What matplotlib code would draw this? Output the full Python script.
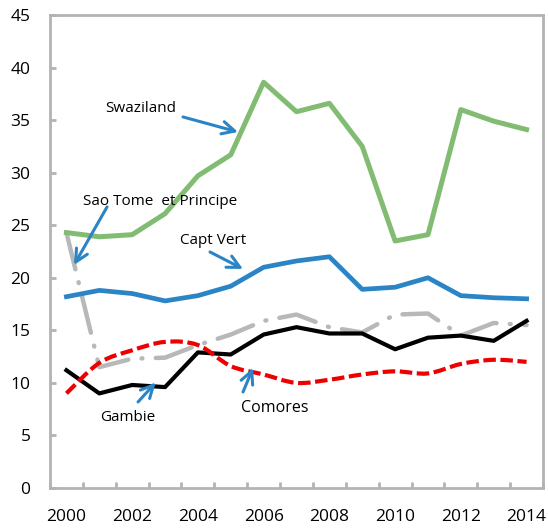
import matplotlib
matplotlib.use("Agg")
import matplotlib.pyplot as plt
from matplotlib.path import Path
from matplotlib.patches import PathPatch
import numpy as np

years = list(range(2000, 2015))
swaziland = [24.3, 23.9, 24.1, 26.1, 29.7, 31.7, 38.6, 35.8, 36.6, 32.5, 23.5, 24.1, 36.0, 34.9, 34.1]
capt_vert = [18.2, 18.8, 18.5, 17.8, 18.3, 19.2, 21.0, 21.6, 22.0, 18.9, 19.1, 20.0, 18.3, 18.1, 18.0]
gambie = [11.2, 9.0, 9.8, 9.6, 12.9, 12.7, 14.6, 15.3, 14.7, 14.7, 13.2, 14.3, 14.5, 14.0, 15.9]
comores = [9.0, 11.9, 13.1, 13.9, 13.6, 11.6, 10.8, 10.0, 10.3, 10.8, 11.1, 10.9, 11.8, 12.2, 12.0]
sao_tome = [24.3, 11.5, 12.3, 12.4, 13.6, 14.6, 15.9, 16.5, 15.3, 14.8, 16.5, 16.6, 14.5, 15.7, 15.5]
xtick_labels = [str(y) for y in years[::2]]

FONT = ["Open Sans", "DejaVu Sans"]
plt.rcParams['font.family'] = FONT

fig = plt.figure(figsize=(5.48, 5.29), dpi=100)
ax = fig.add_axes([50/548, 1-488/529, 493/548, 473/529])

x = np.arange(len(years))
ax.plot(x, swaziland, color="#82bc73", lw=3.6, solid_joinstyle="round", zorder=3)
ax.plot(x, capt_vert, color="#2a84c6", lw=3.4, solid_joinstyle="round", zorder=3)
ax.plot(x, sao_tome, color="#b8b8b8", lw=3.2, dashes=(8.5, 3.0, 0.2, 3.0),
        dash_capstyle="round", zorder=2)
ax.plot(x, gambie, color="#000000", lw=3.0, solid_joinstyle="round", zorder=3)

# Smoothed (Excel-style) Comores curve via Bezier path
pts = np.column_stack([x, comores]).astype(float)
verts = [tuple(pts[0])]
codes = [Path.MOVETO]
n = len(pts)
for i in range(n - 1):
    p0 = pts[i - 1] if i > 0 else pts[i]
    p1 = pts[i]
    p2 = pts[i + 1]
    p3 = pts[i + 2] if i + 2 < n else pts[i + 1]
    c1 = p1 + (p2 - p0) / 6.0
    c2 = p2 - (p3 - p1) / 6.0
    verts += [tuple(c1), tuple(c2), tuple(p2)]
    codes += [Path.CURVE4] * 3
patch = PathPatch(Path(verts, codes), fill=False, edgecolor="#ee0000", lw=3.0,
                  linestyle=(0, (3.0, 1.1)), zorder=4)
ax.add_patch(patch)

ax.set_xlim(-0.5, 14.5)
ax.set_ylim(0, 45)
ax.set_yticks(range(0, 46, 5))
ax.set_xticks(x[::2])
ax.set_xticklabels(xtick_labels)
ax.set_xticks(np.arange(-0.5, 15, 1), minor=True)

spine_c = "#b3b3b3"
for s in ax.spines.values():
    s.set_color(spine_c)
    s.set_linewidth(2.0)
ax.tick_params(axis="x", which="major", length=0, labelsize=12.5, pad=15, colors="#000000")
ax.tick_params(axis="x", which="minor", direction="in", length=4, width=2, color=spine_c)
ax.tick_params(axis="y", which="major", direction="in", length=4, width=2, color=spine_c,
               labelsize=12.5, pad=14, labelcolor="#000000")

arrow_c = "#2a84c6"
aprops = dict(arrowstyle="->,head_length=0.9,head_width=0.45", color=arrow_c, lw=2.2,
              shrinkA=0, shrinkB=0)
fs = 11

def px2data(px, py):
    return ((px - 66.4) / 32.87, (488 - py) / 10.51)

annotations = [
    ("Swaziland", (141, 109), (183, 117), (238, 132), fs),
    ("Sao Tome  et Principe", (160, 202), (107, 207), (74, 265), fs),
    ("Capt Vert", (213, 241), (210, 252), (243, 269), fs),
    ("Gambie", (128, 418), (138, 402), (155.7, 382.5), fs),
    ("Comores", (275, 408), (243, 392), (253, 368), 11.5),
]
for label, tpos, astart, aend, size in annotations:
    ax.text(*px2data(*tpos), label, ha="center", va="center", fontsize=size, zorder=6)
    ax.annotate("", xy=px2data(*aend), xytext=px2data(*astart), arrowprops=aprops, zorder=6)

fig.savefig("out.png", dpi=100)
